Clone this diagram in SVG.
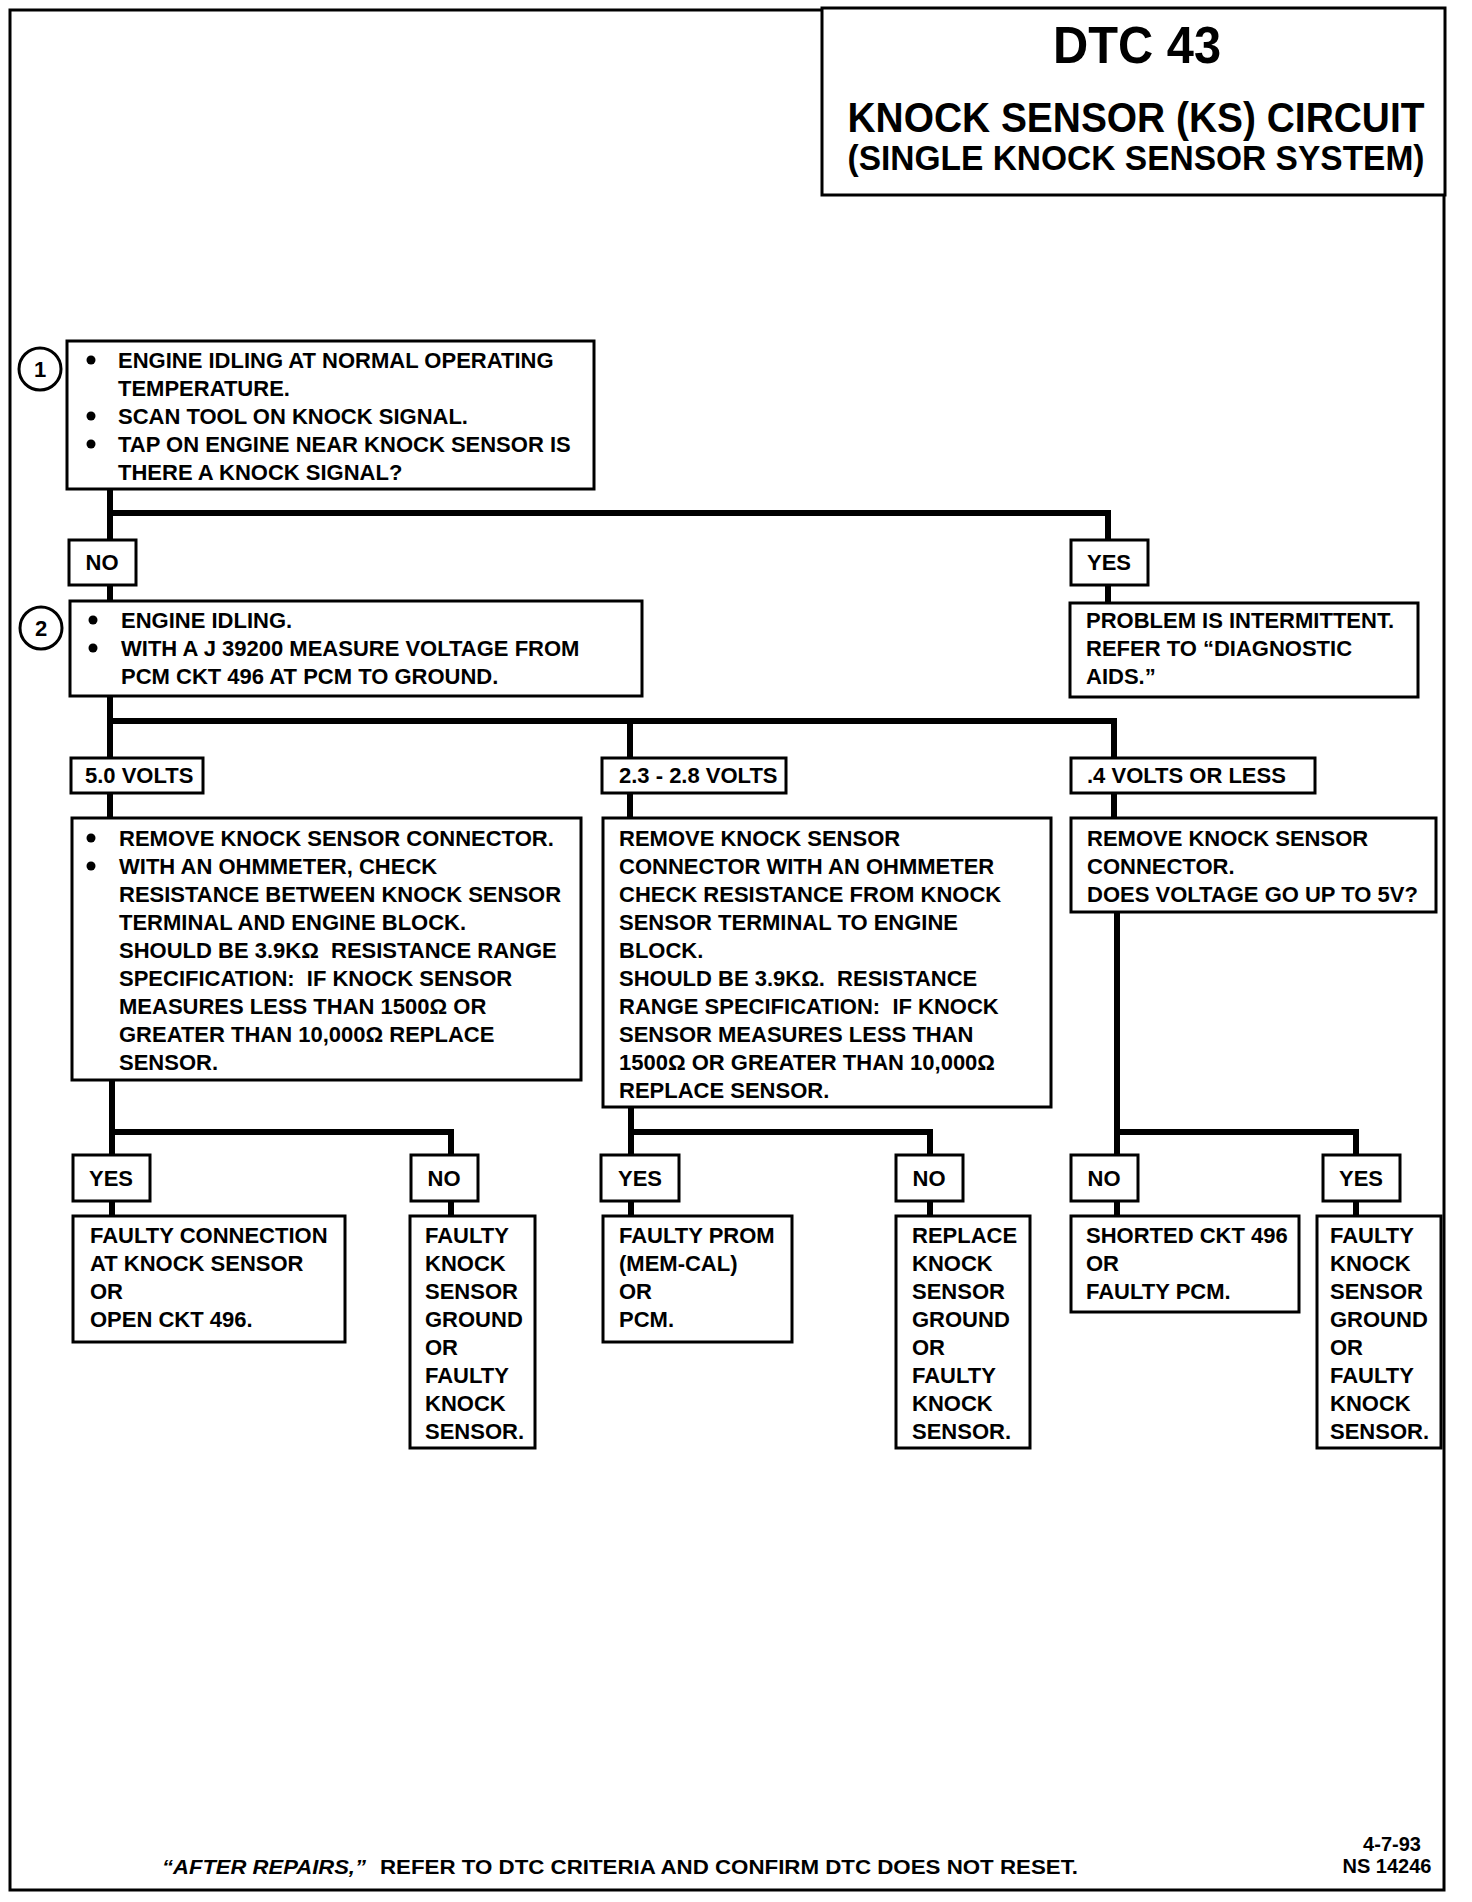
<svg xmlns="http://www.w3.org/2000/svg" width="1472" height="1902" viewBox="0 0 1472 1902">
<style>
.box{fill:#fff;stroke:#000;stroke-width:3}
.frame{fill:none;stroke:#000;stroke-width:3}
.t{font-family:"Liberation Sans",Arial,sans-serif;font-weight:bold;font-size:22px;fill:#000;white-space:pre}
.c{text-anchor:middle}
.conn{fill:none;stroke:#000;stroke-width:6;stroke-linejoin:miter}
.bul{fill:#000}
.num{fill:#fff;stroke:#000;stroke-width:3}
</style>
<rect width="1472" height="1902" fill="#fff"/>
<rect class="frame" x="10" y="10" width="1434" height="1880"/>

<g id="title">
<rect class="box" x="822" y="8" width="623" height="187"/>
<text class="t c" x="1137" y="63" style="font-size:52px" textLength="168" lengthAdjust="spacingAndGlyphs">DTC 43</text>
<text class="t c" x="1136" y="132" style="font-size:42px" textLength="577" lengthAdjust="spacingAndGlyphs">KNOCK SENSOR (KS) CIRCUIT</text>
<text class="t c" x="1136" y="170" style="font-size:35px" textLength="577" lengthAdjust="spacingAndGlyphs">(SINGLE KNOCK SENSOR SYSTEM)</text>
</g>

<g id="connectors">
<path class="conn" d="M110 489 V601 M110 513 H1108 V603"/>
<path class="conn" d="M110 697 V819 M110 721 H1114 V819 M630 721 V819"/>
<path class="conn" d="M112 1080 V1216 M112 1132 H451 V1216"/>
<path class="conn" d="M631 1107 V1216 M631 1132 H930 V1216"/>
<path class="conn" d="M1117 912 V1216 M1117 1132 H1356 V1216"/>
</g>

<g id="step1">
<circle class="num" cx="40" cy="369" r="21"/>
<text class="t c" x="40" y="377">1</text>
<rect class="box" x="67" y="341" width="527" height="148"/>
<circle class="bul" cx="91" cy="360" r="4.5"/>
<circle class="bul" cx="91" cy="416" r="4.5"/>
<circle class="bul" cx="91" cy="444" r="4.5"/>
<text class="t" x="118" y="368">ENGINE IDLING AT NORMAL OPERATING</text>
<text class="t" x="118" y="396">TEMPERATURE.</text>
<text class="t" x="118" y="424">SCAN TOOL ON KNOCK SIGNAL.</text>
<text class="t" x="118" y="452">TAP ON ENGINE NEAR KNOCK SENSOR IS</text>
<text class="t" x="118" y="480">THERE A KNOCK SIGNAL?</text>
</g>

<g id="label-no-1">
<rect class="box" x="69" y="540" width="67" height="45"/>
<text class="t c" x="102" y="570">NO</text>
</g>
<g id="label-yes-1">
<rect class="box" x="1071" y="540" width="77" height="45"/>
<text class="t c" x="1109" y="570">YES</text>
</g>

<g id="step2">
<circle class="num" cx="41" cy="628" r="21"/>
<text class="t c" x="41" y="636">2</text>
<rect class="box" x="70" y="601" width="572" height="95"/>
<circle class="bul" cx="93" cy="620" r="4.5"/>
<circle class="bul" cx="93" cy="648" r="4.5"/>
<text class="t" x="121" y="628">ENGINE IDLING.</text>
<text class="t" x="121" y="656">WITH A J 39200 MEASURE VOLTAGE FROM</text>
<text class="t" x="121" y="684">PCM CKT 496 AT PCM TO GROUND.</text>
</g>

<g id="intermittent">
<rect class="box" x="1070" y="603" width="348" height="94"/>
<text class="t" x="1086" y="628">PROBLEM IS INTERMITTENT.</text>
<text class="t" x="1086" y="656">REFER TO “DIAGNOSTIC</text>
<text class="t" x="1086" y="684">AIDS.”</text>
</g>

<g id="label-5v">
<rect class="box" x="71" y="758" width="132" height="35"/>
<text class="t" x="85" y="783">5.0 VOLTS</text>
</g>
<g id="label-23v">
<rect class="box" x="602" y="758" width="184" height="35"/>
<text class="t" x="619" y="783">2.3 - 2.8 VOLTS</text>
</g>
<g id="label-04v">
<rect class="box" x="1071" y="758" width="244" height="35"/>
<text class="t" x="1087" y="783">.4 VOLTS OR LESS</text>
</g>

<g id="check-5v">
<rect class="box" x="72" y="818" width="509" height="262"/>
<circle class="bul" cx="91" cy="838" r="4.5"/>
<circle class="bul" cx="91" cy="866" r="4.5"/>
<text class="t" x="119" y="846">REMOVE KNOCK SENSOR CONNECTOR.</text>
<text class="t" x="119" y="874">WITH AN OHMMETER, CHECK</text>
<text class="t" x="119" y="902">RESISTANCE BETWEEN KNOCK SENSOR</text>
<text class="t" x="119" y="930">TERMINAL AND ENGINE BLOCK.</text>
<text class="t" x="119" y="958">SHOULD BE 3.9KΩ  RESISTANCE RANGE</text>
<text class="t" x="119" y="986">SPECIFICATION:  IF KNOCK SENSOR</text>
<text class="t" x="119" y="1014">MEASURES LESS THAN 1500Ω OR</text>
<text class="t" x="119" y="1042">GREATER THAN 10,000Ω REPLACE</text>
<text class="t" x="119" y="1070">SENSOR.</text>
</g>

<g id="check-23v">
<rect class="box" x="603" y="818" width="448" height="289"/>
<text class="t" x="619" y="846">REMOVE KNOCK SENSOR</text>
<text class="t" x="619" y="874">CONNECTOR WITH AN OHMMETER</text>
<text class="t" x="619" y="902">CHECK RESISTANCE FROM KNOCK</text>
<text class="t" x="619" y="930">SENSOR TERMINAL TO ENGINE</text>
<text class="t" x="619" y="958">BLOCK.</text>
<text class="t" x="619" y="986">SHOULD BE 3.9KΩ.  RESISTANCE</text>
<text class="t" x="619" y="1014">RANGE SPECIFICATION:  IF KNOCK</text>
<text class="t" x="619" y="1042">SENSOR MEASURES LESS THAN</text>
<text class="t" x="619" y="1070">1500Ω OR GREATER THAN 10,000Ω</text>
<text class="t" x="619" y="1098">REPLACE SENSOR.</text>
</g>

<g id="check-04v">
<rect class="box" x="1071" y="818" width="365" height="94"/>
<text class="t" x="1087" y="846">REMOVE KNOCK SENSOR</text>
<text class="t" x="1087" y="874">CONNECTOR.</text>
<text class="t" x="1087" y="902">DOES VOLTAGE GO UP TO 5V?</text>
</g>

<g id="label-yes-a"><rect class="box" x="73" y="1155" width="77" height="46"/><text class="t c" x="111" y="1186">YES</text></g>
<g id="label-no-a"><rect class="box" x="411" y="1155" width="67" height="46"/><text class="t c" x="444" y="1186">NO</text></g>
<g id="label-yes-b"><rect class="box" x="601" y="1155" width="78" height="46"/><text class="t c" x="640" y="1186">YES</text></g>
<g id="label-no-b"><rect class="box" x="896" y="1155" width="67" height="46"/><text class="t c" x="929" y="1186">NO</text></g>
<g id="label-no-c"><rect class="box" x="1071" y="1155" width="67" height="46"/><text class="t c" x="1104" y="1186">NO</text></g>
<g id="label-yes-c"><rect class="box" x="1323" y="1155" width="77" height="46"/><text class="t c" x="1361" y="1186">YES</text></g>

<g id="result-a">
<rect class="box" x="73" y="1216" width="272" height="126"/>
<text class="t" x="90" y="1243">FAULTY CONNECTION</text>
<text class="t" x="90" y="1271">AT KNOCK SENSOR</text>
<text class="t" x="90" y="1299">OR</text>
<text class="t" x="90" y="1327">OPEN CKT 496.</text>
</g>
<g id="result-b">
<rect class="box" x="410" y="1216" width="125" height="232"/>
<text class="t" x="425" y="1243">FAULTY</text>
<text class="t" x="425" y="1271">KNOCK</text>
<text class="t" x="425" y="1299">SENSOR</text>
<text class="t" x="425" y="1327">GROUND</text>
<text class="t" x="425" y="1355">OR</text>
<text class="t" x="425" y="1383">FAULTY</text>
<text class="t" x="425" y="1411">KNOCK</text>
<text class="t" x="425" y="1439">SENSOR.</text>
</g>
<g id="result-c">
<rect class="box" x="603" y="1216" width="189" height="126"/>
<text class="t" x="619" y="1243">FAULTY PROM</text>
<text class="t" x="619" y="1271">(MEM-CAL)</text>
<text class="t" x="619" y="1299">OR</text>
<text class="t" x="619" y="1327">PCM.</text>
</g>
<g id="result-d">
<rect class="box" x="896" y="1216" width="134" height="232"/>
<text class="t" x="912" y="1243">REPLACE</text>
<text class="t" x="912" y="1271">KNOCK</text>
<text class="t" x="912" y="1299">SENSOR</text>
<text class="t" x="912" y="1327">GROUND</text>
<text class="t" x="912" y="1355">OR</text>
<text class="t" x="912" y="1383">FAULTY</text>
<text class="t" x="912" y="1411">KNOCK</text>
<text class="t" x="912" y="1439">SENSOR.</text>
</g>
<g id="result-e">
<rect class="box" x="1071" y="1216" width="228" height="96"/>
<text class="t" x="1086" y="1243">SHORTED CKT 496</text>
<text class="t" x="1086" y="1271">OR</text>
<text class="t" x="1086" y="1299">FAULTY PCM.</text>
</g>
<g id="result-f">
<rect class="box" x="1317" y="1216" width="124" height="232"/>
<text class="t" x="1330" y="1243">FAULTY</text>
<text class="t" x="1330" y="1271">KNOCK</text>
<text class="t" x="1330" y="1299">SENSOR</text>
<text class="t" x="1330" y="1327">GROUND</text>
<text class="t" x="1330" y="1355">OR</text>
<text class="t" x="1330" y="1383">FAULTY</text>
<text class="t" x="1330" y="1411">KNOCK</text>
<text class="t" x="1330" y="1439">SENSOR.</text>
</g>

<g id="footer">
<text class="t" x="162" y="1874" style="font-size:20px;font-style:italic" textLength="204" lengthAdjust="spacingAndGlyphs">“AFTER REPAIRS,”</text>
<text class="t" x="380" y="1874" style="font-size:20px" textLength="698" lengthAdjust="spacingAndGlyphs">REFER TO DTC CRITERIA AND CONFIRM DTC DOES NOT RESET.</text>
<text class="t c" x="1392" y="1851" style="font-size:20px">4-7-93</text>
<text class="t c" x="1387" y="1873" style="font-size:20px">NS 14246</text>
</g>
</svg>
